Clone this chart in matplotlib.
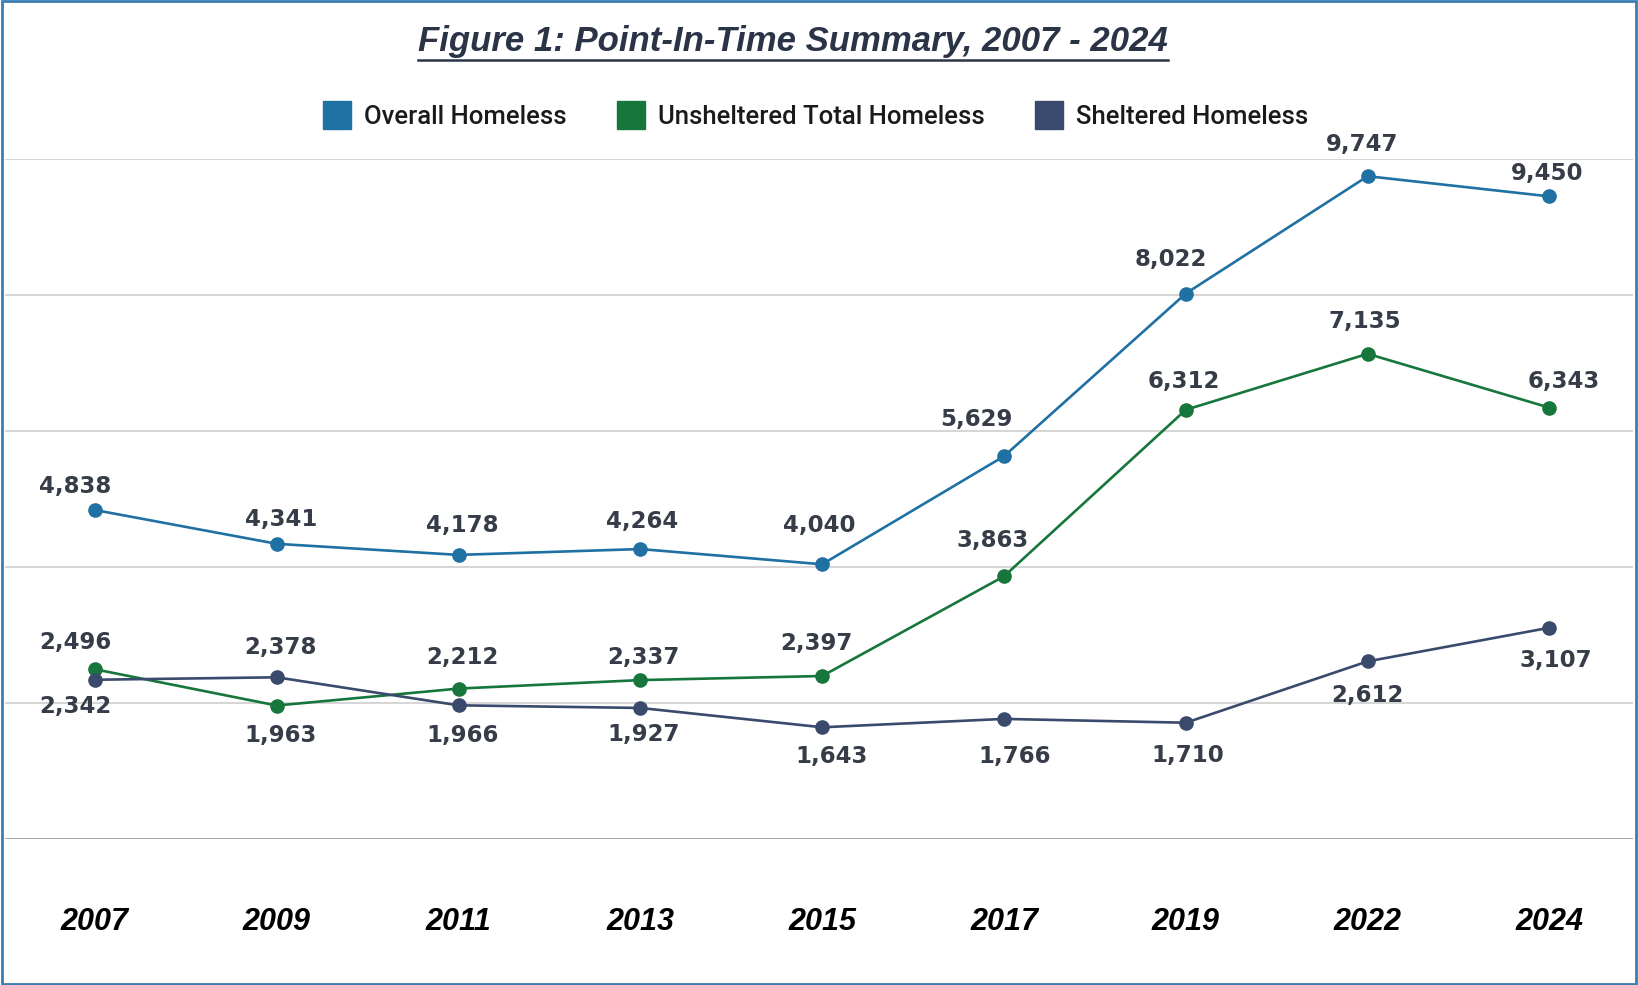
import matplotlib.pyplot as plt
from matplotlib.lines import Line2D
from matplotlib.patches import Rectangle

# Point-in-time counts
years = ['2007', '2009', '2011', '2013', '2015', '2017', '2019', '2022', '2024']
overall = [4838, 4341, 4178, 4264, 4040, 5629, 8022, 9747, 9450]
unsheltered = [2496, 1963, 2212, 2337, 2397, 3863, 6312, 7135, 6343]
sheltered = [2342, 2378, 1966, 1927, 1643, 1766, 1710, 2612, 3107]

series_names = ['Overall Homeless', 'Unsheltered Total Homeless', 'Sheltered Homeless']
colors = ['#1f70a3', '#17763b', '#3a4a6c']

# label offsets in pixels (dx, dy) so the labels don't collide
off_overall = [(-20, 24), (4, 24), (4, 29), (2, 28), (-3, 39), (-28, 37), (-15, 34), (-6, 32), (-2, 23)]
off_unsheltered = [(-20, 27), (4, -30), (4, 31), (3, 23), (-6, 33), (-11, 36), (-2, 28), (-3, 32), (14, 26)]
off_sheltered = [(-20, -27), (4, 30), (4, -30), (3, -27), (9, -29), (11, -38), (2, -33), (0, -34), (6, -33)]

fig = plt.figure(figsize=(16.38, 9.85), dpi=100)
ax = fig.add_axes([0.003, 1 - 839 / 985, 0.994, (839 - 159) / 985])

x = list(range(len(years)))
all_series = [overall, unsheltered, sheltered]
all_offsets = [off_overall, off_unsheltered, off_sheltered]

for vals, offs, col in zip(all_series, all_offsets, colors):
    ax.plot(x, vals, color=col, lw=1.9, marker='o', markersize=9.5, zorder=3)
    for xi, v, (dx, dy) in zip(x, vals, offs):
        ax.annotate(f'{v:,}', (xi, v), xytext=(dx, dy), textcoords='offset pixels',
                    ha='center', va='center', fontsize=16.5, fontweight='bold',
                    color='#363c48', family='DejaVu Sans')

ax.set_xlim(-0.495, 8.46)
ax.set_ylim(0, 10000)
ax.set_yticks([2000, 4000, 6000, 8000, 10000])
ax.yaxis.grid(True, color='#d6d6d6', lw=1.5)
ax.axhline(0, color='#a8a8a8', lw=2.2, zorder=2)
ax.tick_params(axis='y', left=False, labelleft=False)
ax.set_xticks(x)
ax.set_xticklabels(years, fontsize=22, fontweight='bold', fontstyle='italic',
                   family='Liberation Sans', color='black')
ax.tick_params(axis='x', length=0, pad=49)
for s in ax.spines.values():
    s.set_visible(False)

# legend with square swatches
handles = [Line2D([], [], ls='', marker='s', markersize=20, color=c) for c in colors]
fig.legend(handles, series_names, loc='center', bbox_to_anchor=(0.4975, 1 - 117 / 985),
           ncol=3, frameon=False, prop={'family': 'Roboto', 'size': 18.5, 'weight': 'medium'},
           labelcolor='#1a1a1a', handletextpad=0.45, columnspacing=1.9, handlelength=1.2)

title = fig.text(0.484, 1 - 42 / 985, 'Figure 1: Point-In-Time Summary, 2007 - 2024',
                 ha='center', va='center', fontsize=25, fontweight='bold',
                 fontstyle='italic', family='Liberation Sans', color='#2b3447')

# underline the title
fig.canvas.draw()
bb = title.get_window_extent()
uy = (bb.y0 - 1) / fig.bbox.height
fig.add_artist(Line2D([bb.x0 / fig.bbox.width, bb.x1 / fig.bbox.width], [uy, uy],
                      transform=fig.transFigure, color='#2b3447', lw=1.8))

# blue frame around the figure
fig.add_artist(Rectangle((0.0015, 0.0015), 0.997, 0.997, transform=fig.transFigure,
                         fill=False, edgecolor='#3a7fb3', lw=2))

fig.savefig('out.png', dpi=100)
